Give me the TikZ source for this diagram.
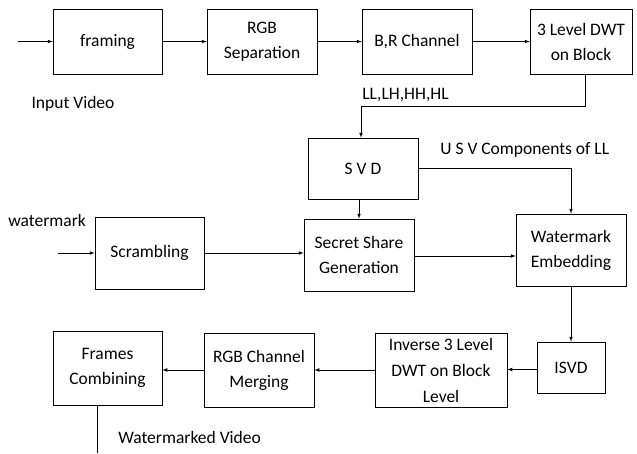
\documentclass[tikz,border=0pt]{standalone}
\usepackage{fontspec}
\setmainfont{Carlito}
\usepackage{tikz}
\tikzset{
  >=latex,
  box/.style={draw, line width=0.7pt, align=center, inner sep=0pt, font=\fontsize{17.5}{25}\selectfont},
  lbl/.style={font=\fontsize{17.5}{25}\selectfont, inner sep=0pt},
}

\begin{document}
\begin{tikzpicture}[x=1pt,y=-1pt,line width=0.7pt]
    \useasboundingbox (0,0) rectangle (637,453);
    % top row
    \node[box,minimum width=109pt,minimum height=65pt] (frm) at (107.5,41.5) {framing};
    \node[box,minimum width=110pt,minimum height=65pt] (rgb) at (262,41.5) {RGB\\Separation};
    \node[box,minimum width=110pt,minimum height=65pt] (brc) at (417,41.5) {B,R Channel};
    \node[box,minimum width=102pt,minimum height=65pt] (dwt) at (581,41.5) {3 Level DWT\\on Block};
    % middle
    \node[box,minimum width=110pt,minimum height=61pt] (svd) at (363,168.5) {S V D};
    \node[box,minimum width=109pt,minimum height=72pt] (scr) at (149.5,253) {Scrambling};
    \node[box,minimum width=110pt,minimum height=72pt] (ssg) at (359,255) {Secret Share\\Generation};
    \node[box,minimum width=110pt,minimum height=72pt] (wme) at (571,250) {Watermark\\Embedding};
    % bottom row
    \node[box,minimum width=109pt,minimum height=74pt] (fcb) at (107.5,368) {Frames\\Combining};
    \node[box,minimum width=110pt,minimum height=74pt] (rcm) at (259,370) {RGB Channel\\Merging};
    \node[box,minimum width=132pt,minimum height=74pt,font=\fontsize{17.5}{26}\selectfont] (inv) at (441,370) {Inverse 3 Level\\DWT on Block\\Level};
    \node[box,minimum width=68pt,minimum height=51pt] (isvd) at (571,367.5) {ISVD};
    % labels
    \node[lbl] (invid) at (73,104) {Input Video};
    \node[lbl,anchor=west] (bands) at (362,95) {LL,LH,HH,HL};
    \node[lbl,anchor=west] (usv) at (440,150) {U S V Components of LL};
    \node[lbl,anchor=west] (wm) at (8,220) {watermark};
    \node[lbl,anchor=west] (wmvid) at (118,437) {Watermarked Video};
    \coordinate (vin) at (18,41.5);
    \coordinate (win) at (58,253);
    \coordinate (vout) at (97,453);
    % connectors
    \begin{scope}[->]
      \draw (vin) -- (frm);
      \draw (frm) -- (rgb);
      \draw (rgb) -- (brc);
      \draw (brc) -- (dwt);
      \draw ([xshift=4pt]dwt.south) -- ++(0,32) -| ([xshift=-2pt]svd.north);
      \draw ([xshift=-4pt]svd.south) -- ([xshift=-4pt]svd.south |- ssg.north);
      \draw (svd.east) -| (wme.north);
      \draw (win) -- (win -| scr.west);
      \draw (scr.east) -- (scr.east -| ssg.west);
      \draw ([yshift=-1pt]ssg.east) -- ([yshift=-1pt]ssg.east -| wme.west);
      \draw (wme.south) -- (isvd.north);
      \draw ([yshift=-2pt]isvd.west) -- ([yshift=-2pt]isvd.west -| inv.east);
      \draw (inv.west) -- (inv.west -| rcm.east);
      \draw (rcm.west) -- (rcm.west -| fcb.east);
    \end{scope}
    \draw (vout |- fcb.south) -- (vout);
\end{tikzpicture}
\end{document}
